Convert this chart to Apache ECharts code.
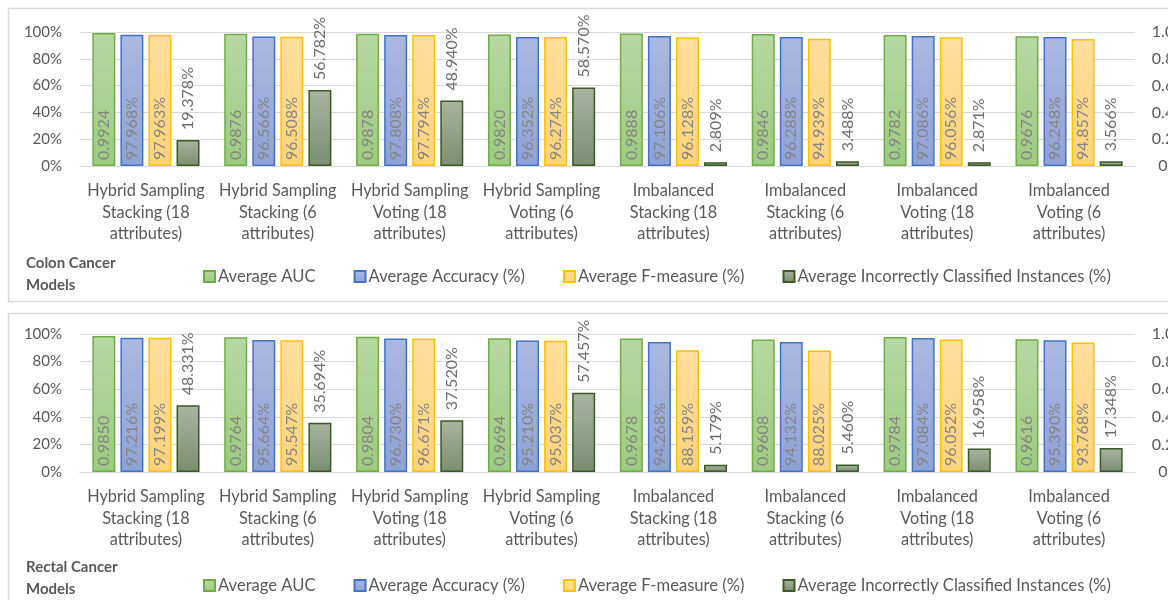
<!DOCTYPE html>
<html>
<head>
<meta charset="utf-8">
<script src="https://cdn.jsdelivr.net/npm/echarts@6/dist/echarts.min.js"></script>
<style>
  html, body { margin: 0; padding: 0; background: #ffffff; }
  #chart { width: 1168px; height: 600px; }
</style>
</head>
<body>
<div id="chart"></div>
<script>
// Model categories shared by both panels
const categories = [
  'Hybrid Sampling\nStacking (18\nattributes)',
  'Hybrid Sampling\nStacking (6\nattributes)',
  'Hybrid Sampling\nVoting (18\nattributes)',
  'Hybrid Sampling\nVoting (6\nattributes)',
  'Imbalanced\nStacking (18\nattributes)',
  'Imbalanced\nStacking (6\nattributes)',
  'Imbalanced\nVoting (18\nattributes)',
  'Imbalanced\nVoting (6\nattributes)'
];

const seriesNames = [
  'Average AUC',
  'Average Accuracy (%)',
  'Average F-measure (%)',
  'Average Incorrectly Classified Instances (%)'
];

// Colon cancer models
const colonAUC       = [0.9924, 0.9876, 0.9878, 0.9820, 0.9888, 0.9846, 0.9782, 0.9676];
const colonAccuracy  = [97.968, 96.566, 97.808, 96.352, 97.106, 96.288, 97.086, 96.248];
const colonFMeasure  = [97.963, 96.508, 97.794, 96.274, 96.128, 94.939, 96.056, 94.857];
const colonIncorrect = [19.378, 56.782, 48.940, 58.570, 2.809, 3.488, 2.871, 3.566];

// Rectal cancer models
const rectalAUC       = [0.9850, 0.9764, 0.9804, 0.9694, 0.9678, 0.9608, 0.9784, 0.9616];
const rectalAccuracy  = [97.216, 95.664, 96.730, 95.210, 94.268, 94.132, 97.084, 95.390];
const rectalFMeasure  = [97.199, 95.547, 96.671, 95.037, 88.159, 88.025, 96.052, 93.768];
const rectalIncorrect = [48.331, 35.694, 37.520, 57.457, 5.179, 5.460, 16.958, 17.348];

// Left and right axis tick settings
const pctTicks = { min: 0, max: 100, interval: 20 };
const aucTicks = { min: 0, max: 1, interval: 0.2 };

const FONT = 'Lato';
const TEXT = '#595959';
const GRID_LINE = '#d9d9d9';

function grad(top, bottom) {
  return new echarts.graphic.LinearGradient(0, 0, 0, 1, [
    { offset: 0, color: top }, { offset: 1, color: bottom }
  ]);
}

const styles = [
  { fill: grad('#b7d8a2', '#9ccb80'), border: '#70ad47' },
  { fill: grad('#aab9e2', '#8ea2d6'), border: '#4472c4' },
  { fill: grad('#ffdf9c', '#ffd37a'), border: '#ffc000' },
  { fill: grad('#aab4a1', '#7b8d71'), border: '#3a5a26' }
];

const insideLabel = (fmt) => ({
  show: true, position: 'insideBottom', rotate: 90, align: 'left',
  verticalAlign: 'middle', distance: 6, color: '#858585',
  fontFamily: FONT, fontSize: 16, formatter: fmt
});
const topLabel = (fmt) => ({
  show: true, position: 'top', rotate: 90, align: 'left',
  verticalAlign: 'middle', distance: 10, color: '#6e6e6e',
  fontFamily: FONT, fontSize: 16, formatter: fmt
});

function panelSeries(gridIdx, auc, acc, fm, inc) {
  const xi = gridIdx, yl = gridIdx * 2, yr = gridIdx * 2 + 1;
  const sets = [auc, acc, fm, inc];
  const pct = (p) => p.value.toFixed(3) + '%';
  const labels = [
    insideLabel((p) => p.value.toFixed(4)),
    insideLabel(pct),
    insideLabel(pct),
    topLabel(pct)
  ];
  return sets.map((d, i) => ({
    name: seriesNames[i],
    type: 'bar',
    xAxisIndex: xi,
    yAxisIndex: i === 0 ? yr : yl,
    data: d,
    barWidth: 23,
    barGap: '22%',
    itemStyle: { color: styles[i].fill, borderColor: styles[i].border, borderWidth: 1.5 },
    label: labels[i],
    emphasis: { disabled: true }
  }));
}

function xAxis(gridIdx) {
  return {
    type: 'category', gridIndex: gridIdx, data: categories,
    axisTick: { show: false },
    axisLine: { lineStyle: { color: GRID_LINE, width: 1 } },
    axisLabel: { interval: 0, color: TEXT, fontFamily: FONT, fontSize: 16.3, lineHeight: 21.5, margin: 14 }
  };
}

function yAxes(gridIdx) {
  return [
    {
      type: 'value', gridIndex: gridIdx, position: 'left', ...pctTicks,
      axisLine: { show: false }, axisTick: { show: false },
      splitLine: { lineStyle: { color: GRID_LINE, width: 1 } },
      axisLabel: { formatter: '{value}%', color: TEXT, fontFamily: FONT, fontSize: 15, margin: 18 }
    },
    {
      type: 'value', gridIndex: gridIdx, position: 'right', ...aucTicks,
      axisLine: { show: false }, axisTick: { show: false }, splitLine: { show: false },
      axisLabel: {
        formatter: (v) => (v === 0 ? '0' : v.toFixed(1)),
        align: 'center', color: TEXT, fontFamily: FONT, fontSize: 16, margin: 28
      }
    }
  ];
}

function legend(top) {
  return {
    left: 203, top: top, data: seriesNames, icon: 'rect',
    padding: 0, itemWidth: 11, itemHeight: 11, itemGap: 38,
    selectedMode: false,
    textStyle: { color: TEXT, fontFamily: FONT, fontSize: 16.6, padding: [0, 0, 0, -2] }
  };
}

function panelTitle(text, top) {
  return {
    type: 'text', left: 26, top: top,
    style: { text: text, fill: TEXT, font: 'bold 15px ' + FONT, lineHeight: 22 }
  };
}

const chart = echarts.init(document.getElementById('chart'), null, { renderer: 'canvas' });

chart.setOption({
  animation: false,
  grid: [
    { left: 80, right: 33, top: 32, height: 134, outerBoundsMode: 'none', containLabel: false },
    { left: 80, right: 33, top: 334, height: 138, outerBoundsMode: 'none', containLabel: false }
  ],
  xAxis: [xAxis(0), xAxis(1)],
  yAxis: [...yAxes(0), ...yAxes(1)],
  legend: [legend(268), legend(577)],
  graphic: [
    { type: 'rect', shape: { x: 8.5, y: 8.5, width: 1200, height: 293 }, style: { fill: 'none', stroke: GRID_LINE, lineWidth: 1.5 }, z: -1 },
    { type: 'rect', shape: { x: 8.5, y: 313.5, width: 1200, height: 400 }, style: { fill: 'none', stroke: GRID_LINE, lineWidth: 1.5 }, z: -1 },
    panelTitle('Colon Cancer\nModels', 252),
    panelTitle('Rectal Cancer\nModels', 556)
  ],
  series: [
    ...panelSeries(0, colonAUC, colonAccuracy, colonFMeasure, colonIncorrect),
    ...panelSeries(1, rectalAUC, rectalAccuracy, rectalFMeasure, rectalIncorrect)
  ]
});
</script>
</body>
</html>
